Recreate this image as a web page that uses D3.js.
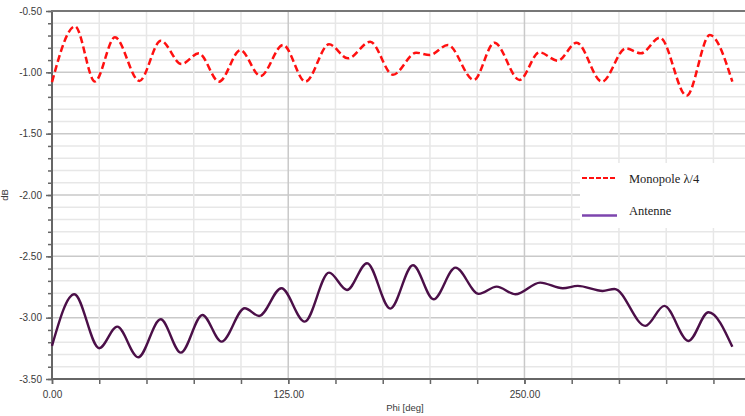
<!DOCTYPE html>
<html>
<head>
<meta charset="utf-8">
<script src="https://cdn.jsdelivr.net/npm/d3@7"></script>
<style>
  body { margin: 0; background: #fff; }
  svg { display: block; }
</style>
</head>
<body>
<svg id="chart" width="745" height="416"></svg>
<script>
// Gain versus azimuth angle, two antennas
const phiMonopole = [0, 12.2, 22.7, 33.3, 46.2, 57.6, 68.5, 77.7, 88.4, 99.7, 110.3, 122.3, 134.1, 146.6, 156.6, 168.4, 180.4, 192.7, 199.8, 209.5, 223.2, 234.1, 247.4, 257.9, 267.6, 277.6, 291.0, 303.7, 311.6, 321.7, 335.8, 348.1, 360];
const dbMonopole  = [-1.08, -0.625, -1.075, -0.715, -1.07, -0.742, -0.932, -0.845, -1.076, -0.82, -1.03, -0.777, -1.076, -0.772, -0.886, -0.75, -1.02, -0.84, -0.859, -0.777, -1.062, -0.758, -1.062, -0.837, -0.905, -0.758, -1.076, -0.804, -0.845, -0.717, -1.19, -0.696, -1.076];

const phiAntenne = [0, 11.8, 25.0, 34.5, 45.6, 57.5, 68.2, 79.6, 89.7, 102.0, 109.6, 121.4, 133.7, 146.6, 156.1, 166.7, 179.0, 191.0, 201.9, 213.5, 225.8, 235.3, 245.2, 258.3, 270.3, 278.2, 291.4, 297.6, 314.0, 324.0, 336.8, 347.4, 360];
const dbAntenne  = [-3.23, -2.809, -3.249, -3.073, -3.323, -3.013, -3.285, -2.978, -3.195, -2.923, -2.986, -2.76, -3.032, -2.633, -2.774, -2.556, -2.926, -2.573, -2.85, -2.592, -2.806, -2.747, -2.809, -2.714, -2.76, -2.741, -2.782, -2.766, -3.067, -2.904, -3.19, -2.956, -3.238];

const seriesNames = ["Monopole λ/4", "Antenne"];
const yTickValues = [-3.5, -3.0, -2.5, -2.0, -1.5, -1.0, -0.5];
const xTickValues = [0, 125, 250];
const xLabel = "Phi [deg]";
const yLabel = "dB";

const svg = d3.select("#chart");
const x = d3.scaleLinear().domain([0, 366.7]).range([52, 745]);
const y = d3.scaleLinear().domain([-3.5, -0.5]).range([379, 11]);

const yMinor = d3.range(-3.5, -0.49, 0.1).map(v => +v.toFixed(1));
const xMinor = d3.range(0, 366, 25);

// grid
const grid = svg.append("g");
grid.selectAll("line.hy").data(yMinor.filter(v => v > -3.45 && v < -0.55)).join("line")
  .attr("x1", x.range()[0]).attr("x2", x.range()[1])
  .attr("y1", d => y(d)).attr("y2", d => y(d))
  .attr("stroke", d => yTickValues.some(t => Math.abs(t - d) < 1e-6) ? "#c9c9c9" : "#e7e7e7")
  .attr("stroke-width", 1.5);
grid.selectAll("line.vx").data(xMinor.filter(v => v > 0)).join("line")
  .attr("y1", y.range()[0]).attr("y2", y.range()[1])
  .attr("x1", d => x(d)).attr("x2", d => x(d))
  .attr("stroke", d => xTickValues.includes(d) ? "#c9c9c9" : "#e7e7e7")
  .attr("stroke-width", 1.5);

// legend background
const legend = svg.append("g");
legend.append("rect").attr("x", 580).attr("y", 163).attr("width", 170).attr("height", 65).attr("fill", "#fff");

// axes
const fmt = d => d.toFixed(2);
const yAxis = svg.append("g").attr("transform", `translate(${x.range()[0]},0)`)
  .call(d3.axisLeft(y).tickValues(yTickValues).tickFormat(fmt).tickSize(6).tickPadding(4));
const yAxisMinor = svg.append("g").attr("transform", `translate(${x.range()[0]},0)`)
  .call(d3.axisLeft(y).tickValues(yMinor).tickFormat("").tickSize(4));
const xAxis = svg.append("g").attr("transform", `translate(0,${y.range()[0]})`)
  .call(d3.axisBottom(x).tickValues(xTickValues).tickFormat(fmt).tickSize(5).tickPadding(7));
const xAxisMinor = svg.append("g").attr("transform", `translate(0,${y.range()[0]})`)
  .call(d3.axisBottom(x).tickValues(xMinor).tickFormat("").tickSize(5));

[yAxis, yAxisMinor, xAxis, xAxisMinor].forEach(g => {
  g.select(".domain").remove();
  g.selectAll(".tick line").attr("stroke", "#666").attr("stroke-width", 1.5);
  g.selectAll("text").attr("fill", "#3a3a3a")
    .style("font-family", "'Liberation Sans', Arial, sans-serif").style("font-size", "10px");
});

// axis frame lines
svg.append("line").attr("x1", x.range()[0]).attr("x2", x.range()[0]).attr("y1", y.range()[1]).attr("y2", y.range()[0] + 1)
  .attr("stroke", "#666").attr("stroke-width", 2);
svg.append("line").attr("x1", x.range()[0] - 1).attr("x2", x.range()[1]).attr("y1", y.range()[0]).attr("y2", y.range()[0])
  .attr("stroke", "#666").attr("stroke-width", 2);
svg.append("line").attr("x1", x.range()[0] - 1).attr("x2", x.range()[1]).attr("y1", y.range()[1]).attr("y2", y.range()[1])
  .attr("stroke", "#777").attr("stroke-width", 2);

// axis titles
svg.append("text").attr("x", 405).attr("y", 411).attr("text-anchor", "middle")
  .style("font-family", "'Liberation Sans', Arial, sans-serif").style("font-size", "9.5px").attr("fill", "#3a3a3a")
  .text(xLabel);
svg.append("text").attr("transform", "translate(8,195) rotate(-90)").attr("text-anchor", "middle")
  .style("font-family", "'Liberation Sans', Arial, sans-serif").style("font-size", "9.5px").attr("fill", "#3a3a3a")
  .text(yLabel);

// curves
const line = d3.line().x(d => x(d[0])).y(d => y(d[1])).curve(d3.curveMonotoneX);
const monopole = phiMonopole.map((p, i) => [p, dbMonopole[i]]);
const antenne = phiAntenne.map((p, i) => [p, dbAntenne[i]]);

svg.append("path").datum(antenne).attr("d", line)
  .attr("fill", "none").attr("stroke", "#4b0f48").attr("stroke-width", 2.4).attr("stroke-linejoin", "round");
svg.append("path").datum(monopole).attr("d", line)
  .attr("fill", "none").attr("stroke", "#ff1010").attr("stroke-width", 2.5)
  .attr("stroke-dasharray", "7,3.5");

// legend entries
const legendFont = "'Liberation Serif', 'Times New Roman', serif";
legend.append("line").attr("x1", 582).attr("x2", 616).attr("y1", 178).attr("y2", 178)
  .attr("stroke", "#ff1010").attr("stroke-width", 2).attr("stroke-dasharray", "5,2");
legend.append("text").attr("x", 629).attr("y", 183).style("font-family", legendFont).style("font-size", "12.5px")
  .attr("fill", "#222").text(seriesNames[0]);
legend.append("line").attr("x1", 582).attr("x2", 617).attr("y1", 215.5).attr("y2", 215.5)
  .attr("stroke", "#7d45ae").attr("stroke-width", 2.5);
legend.append("text").attr("x", 629).attr("y", 215).style("font-family", legendFont).style("font-size", "12.5px")
  .attr("fill", "#222").text(seriesNames[1]);
</script>
</body>
</html>
